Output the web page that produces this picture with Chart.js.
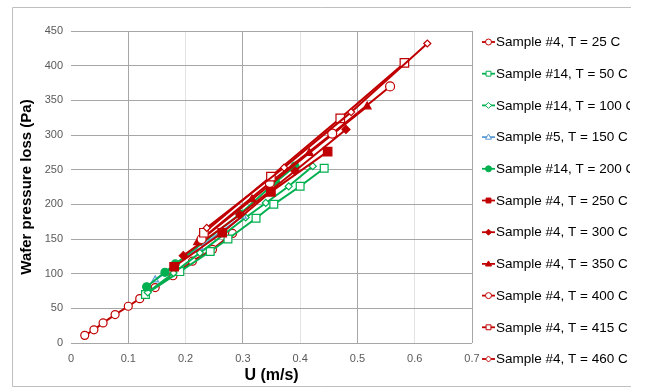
<!DOCTYPE html>
<html>
<head>
<meta charset="utf-8">
<script src="https://cdn.jsdelivr.net/npm/chart.js@4.4.1/dist/chart.umd.min.js"></script>
<style>
  html, body { margin: 0; padding: 0; background: #ffffff; }
  #wrap { width: 646px; height: 388px; position: relative; }
</style>
</head>
<body>
<div id="wrap"><canvas id="c" width="646" height="388"></canvas></div>
<script>
// ---- data (U in m/s, pressure loss in Pa) ----
const seriesNames = [
  "Sample #4, T = 25 C", "Sample #14, T = 50 C", "Sample #14, T = 100 C",
  "Sample #5, T = 150 C", "Sample #14, T = 200 C", "Sample #4, T = 250 C",
  "Sample #4, T = 300 C", "Sample #4, T = 350 C", "Sample #4, T = 400 C",
  "Sample #4, T = 415 C", "Sample #4, T = 460 C"
];
const u25  = [0.024, 0.040, 0.056, 0.077, 0.100, 0.120, 0.147, 0.178, 0.212, 0.247, 0.282];
const p25  = [11, 19, 29, 41, 53, 64, 80, 97, 118, 135, 158];
const u50  = [0.130, 0.190, 0.243, 0.274, 0.323, 0.354, 0.400, 0.442];
const p50  = [70, 103, 132, 150, 180, 200, 226, 252];
const u100 = [0.134, 0.179, 0.225, 0.305, 0.340, 0.380, 0.422];
const p100 = [73, 101, 130, 181, 202, 226, 255];
const u150 = [0.147, 0.225, 0.300];
const p150 = [91, 138, 183];
const u200 = [0.132, 0.164, 0.182, 0.295, 0.357, 0.391];
const p200 = [81, 102, 114, 186, 232, 255];
const u250 = [0.180, 0.264, 0.349, 0.448];
const p250 = [110, 159, 218, 276];
const u300 = [0.196, 0.295, 0.391, 0.480];
const p300 = [126, 185, 248, 308];
const u350 = [0.221, 0.316, 0.416, 0.517];
const p350 = [145, 207, 274, 341];
const u400 = [0.228, 0.347, 0.456, 0.557];
const p400 = [150, 231, 302, 370];
const u415 = [0.232, 0.349, 0.470, 0.582];
const p415 = [159, 240, 324, 404];
const u460 = [0.237, 0.372, 0.489, 0.622];
const p460 = [166, 253, 333, 432];
const xTicks = [0, 0.1, 0.2, 0.3, 0.4, 0.5, 0.6, 0.7];
const yTicks = [0, 50, 100, 150, 200, 250, 300, 350, 400, 450];

const RED = '#C00000', GREEN = '#00B050', BLUE = '#5B9BD5';
const styles = [
  {c: RED,   s: 'circle',   r: 4,   fill: false},
  {c: GREEN, s: 'rect',     r: 5.5, fill: false},
  {c: GREEN, s: 'rectRot',  r: 3.5, fill: false},
  {c: BLUE,  s: 'triangle', r: 4,   fill: false},
  {c: GREEN, s: 'circle',   r: 4,   fill: true},
  {c: RED,   s: 'rect',     r: 6,   fill: true},
  {c: RED,   s: 'rectRot',  r: 4,   fill: true},
  {c: RED,   s: 'triangle', r: 4.5, fill: true},
  {c: RED,   s: 'circle',   r: 4.5, fill: false},
  {c: RED,   s: 'rect',     r: 6,   fill: false},
  {c: RED,   s: 'rectRot',  r: 3.5, fill: false}
];
const us = [u25, u50, u100, u150, u200, u250, u300, u350, u400, u415, u460];
const ps = [p25, p50, p100, p150, p200, p250, p300, p350, p400, p415, p460];

const datasets = seriesNames.map((name, i) => ({
  label: name,
  data: us[i].map((u, k) => ({x: u, y: ps[i][k]})),
  borderColor: styles[i].c,
  backgroundColor: styles[i].fill ? styles[i].c : '#ffffff',
  pointStyle: styles[i].s,
  pointRadius: styles[i].r,
  pointBorderWidth: 1.2,
  pointBorderColor: styles[i].c,
  pointBackgroundColor: styles[i].fill ? styles[i].c : '#ffffff',
  borderWidth: 2,
  showLine: true,
  tension: 0,
  order: -i
}));

function drawMarker(ctx, st, x, y, r) {
  ctx.save();
  ctx.beginPath();
  if (st.s === 'circle') {
    ctx.arc(x, y, r, 0, Math.PI * 2);
  } else if (st.s === 'rect') {
    ctx.rect(x - r * 0.7, y - r * 0.7, r * 1.4, r * 1.4);
  } else if (st.s === 'rectRot') {
    ctx.moveTo(x, y - r); ctx.lineTo(x + r, y); ctx.lineTo(x, y + r); ctx.lineTo(x - r, y); ctx.closePath();
  } else if (st.s === 'triangle') {
    ctx.moveTo(x, y - r); ctx.lineTo(x + r, y + r * 0.7); ctx.lineTo(x - r, y + r * 0.7); ctx.closePath();
  }
  ctx.fillStyle = st.fill ? st.c : '#ffffff';
  ctx.fill();
  ctx.lineWidth = 1;
  ctx.strokeStyle = st.c;
  ctx.stroke();
  ctx.restore();
}

const framePlugin = {
  id: 'frame',
  afterDraw(chart) {
    const ctx = chart.ctx;
    ctx.save();
    // outer chart border (cropped on the right)
    ctx.strokeStyle = '#bfbfbf';
    ctx.lineWidth = 1;
    ctx.beginPath();
    ctx.moveTo(631, 7.5); ctx.lineTo(12.5, 7.5); ctx.lineTo(12.5, 386.5); ctx.lineTo(631, 386.5);
    ctx.stroke();
    // legend
    ctx.beginPath();
    ctx.rect(0, 0, 630, 388);
    ctx.clip();
    ctx.font = '13.5px "Liberation Sans", Arial, sans-serif';
    ctx.textBaseline = 'middle';
    ctx.textAlign = 'left';
    chart.data.datasets.forEach((ds, i) => {
      const y = 42 + i * 31.7;
      const st = styles[i];
      ctx.strokeStyle = st.c;
      ctx.lineWidth = 1.8;
      ctx.beginPath();
      ctx.moveTo(482, y); ctx.lineTo(495, y);
      ctx.stroke();
      drawMarker(ctx, st, 488.5, y, st.s === 'rect' ? 3.5 : 3);
      ctx.fillStyle = '#000000';
      ctx.fillText(ds.label, 496, y + 0.5);
    });
    ctx.restore();
  }
};

new Chart(document.getElementById('c'), {
  type: 'scatter',
  data: { datasets },
  plugins: [framePlugin],
  options: {
    responsive: false,
    animation: false,
    devicePixelRatio: 1,
    layout: { padding: { left: 12, top: 31, right: 174, bottom: 2 } },
    plugins: { legend: { display: false }, tooltip: { enabled: false } },
    scales: {
      x: {
        type: 'linear',
        min: 0, max: 0.7,
        afterBuildTicks: (s) => { s.ticks = xTicks.map(v => ({value: v})); },
        afterFit: (s) => { s.height = 43; },
        border: { display: false },
        grid: {
          drawTicks: false,
          lineWidth: 1,
          color: (ctx) => {
            const v = Math.round(ctx.tick.value * 10);
            if (v === 0) return 'rgba(0,0,0,0)';
            return (v % 2 === 1) ? '#a6a6a6' : '#e3e3e3';
          }
        },
        ticks: {
          padding: 9,
          color: '#595959',
          font: { family: '"Liberation Sans", Arial, sans-serif', size: 11 },
          callback: (v) => String(Math.round(v * 10) / 10),
          maxRotation: 0
        },
        title: {
          display: true,
          text: 'U (m/s)',
          color: '#000000',
          font: { family: '"Liberation Sans", Arial, sans-serif', size: 16, weight: 'bold' },
          padding: { top: 0, bottom: 1 }
        }
      },
      y: {
        type: 'linear',
        min: 0, max: 450,
        afterBuildTicks: (s) => { s.ticks = yTicks.map(v => ({value: v})); },
        afterFit: (s) => { s.width = 59; },
        border: { display: false },
        grid: { drawTicks: false, color: '#a6a6a6', lineWidth: 1 },
        ticks: {
          padding: 8,
          color: '#595959',
          font: { family: '"Liberation Sans", Arial, sans-serif', size: 11 }
        },
        title: {
          display: true,
          text: 'Wafer pressure loss (Pa)',
          color: '#000000',
          font: { family: '"Liberation Sans", Arial, sans-serif', size: 15, weight: 'bold' },
          padding: { top: 6, bottom: 0 }
        }
      }
    }
  }
});
</script>
</body>
</html>
